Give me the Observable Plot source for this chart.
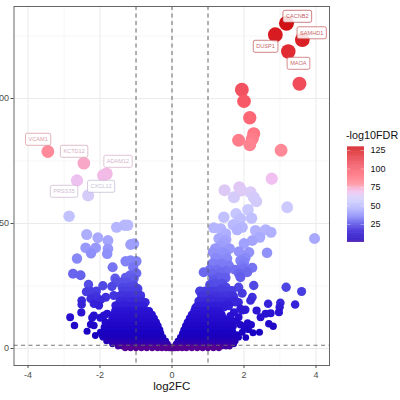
<!DOCTYPE html>
<html><head><meta charset="utf-8">
<script src="https://cdn.jsdelivr.net/npm/d3@7"></script>
<script src="https://cdn.jsdelivr.net/npm/@observablehq/plot@0.6"></script>
<style>
html,body{margin:0;padding:0;background:#fff;overflow:hidden}
#wrap{position:relative;width:400px;height:400px;font-family:"Liberation Sans",Arial,sans-serif}
#wrap svg{position:absolute;left:0;top:0;display:block}
#ltitle{position:absolute;left:346px;top:129px;font-size:10.8px;color:#111;white-space:nowrap}
</style></head><body><div id="wrap"></div>
<script>
// scattered points: [log2FC, -log10FDR]
const upperRight = [[3.18,130.1],[2.87,125.5],[3.62,123.5],[3.23,118.8],[3.54,105.9],[1.94,103.5],[2.0,98.9],[2.16,92.3],[2.27,85.9],[1.85,83.3],[2.16,81.5],[2.23,83.9],[3.03,79.3],[2.77,67.9],[1.46,63.3],[1.87,64.5],[2.18,62.5],[1.72,60.5],[1.92,63.2],[2.27,60.5],[2.34,58.9]];
const midRight = [[3.96,44],[3.2,56.5],[2.64,38.3],[1.44,52.5],[1.78,53.9],[1.9,51.9],[2.11,55.5],[2.21,52.1],[1.16,48.3],[1.35,47.9],[1.49,45.9],[1.81,47.5],[1.95,48.5],[2.32,47.2],[2.44,44.5],[2.6,47.5],[2.75,46.5],[2.23,43.2],[1.44,42.5],[1.35,41.2],[1.14,38.5],[1.86,38.8],[2.14,38.5],[1.49,37.9],[1.21,36.3],[1.53,35.9],[2.04,36.3],[1.9,35.2],[1.39,33.9],[1.58,33.2],[1.95,33.2],[2.23,32.3],[1.12,33.9],[0.88,30.5],[1.12,29.9],[1.49,28.3],[1.86,29.9],[1.9,28.5],[2.09,30.5],[1.3,28.5],[1.25,31.5],[1.2,26],[1.05,25.5],[1.4,26],[1.25,36],[1.3,33.5],[1.5,31],[1.35,30.5],[1.2,40],[1.5,43.5],[1.05,31.5],[2.0,32],[1.4,38.5],[1.3,44],[1.6,40],[2.0,42],[1.7,49.5],[2.0,34.5],[1.75,31.5],[1.15,27.5]];
const lowRight = [[3.17,24.5],[3.6,22.8],[3.42,17.6],[2.27,25.2],[3.01,18.3],[2.99,16.5],[2.97,14.5],[2.67,17.9],[2.74,14.1],[2.6,13.9],[2.46,12.5],[2.35,15.2],[2.81,8.9],[2.69,9.9],[2.43,6.5],[2.25,6.3],[2.04,15.5],[1.9,15.9],[2.23,20.5],[2.18,19.2],[0.77,22.9],[0.98,22.5],[1.16,22.5],[1.35,23.9],[1.67,23.2],[1.95,22.1],[1.3,20.5],[1.72,20.5],[1.07,19.9],[0.65,16.3],[0.88,17.2],[1.16,16.5],[1.44,16.5],[1.76,18.5],[1.53,17.9],[1.95,15.2],[2.1,10.2],[2.0,8.8],[1.85,12.5],[2.2,9.5],[1.7,9],[1.95,6.5],[1.62,13],[1.8,5.5],[2.05,4.4],[1.72,14.5],[1.6,11],[1.78,11],[1.9,9.5],[1.68,7],[1.85,4.5],[2.12,7.6],[1.55,18],[1.85,18.5],[1.6,21],[1.85,24.5],[1.5,24.5],[1.7,3.2]];
const upperLeft = [[-3.45,78.8],[-2.45,74.1],[-1.82,69.9],[-1.91,69.2],[-2.64,67.2],[-2.33,61.2],[-2.86,52.9],[-1.54,48.5],[-1.32,49.3],[-1.23,49.3],[-2.37,45.6],[-2.06,44.3],[-1.78,43.2],[-1.06,41.9],[-1.15,41.6],[-2.4,40.3],[-2.12,40.3],[-2.25,38.1],[-1.78,39.9],[-1.8,37.9],[-2.64,36],[-1.29,34.9],[-1.15,35.2],[-0.99,34.9],[-1.65,32.5],[-2.75,29.9],[-2.54,29.3],[-1.58,28],[-1.29,28.3],[-1.17,29.2],[-0.99,30.1],[-1.06,27.9],[-1.08,32.5]];
const lowLeft = [[-2.32,25.6],[-1.92,25.1],[-1.67,24.8],[-1.38,24.3],[-2.38,22.7],[-2.26,22.9],[-1.2,24.5],[-1.06,25.2],[-0.95,23.9],[-1.84,20.5],[-1.62,21.2],[-1.43,21.2],[-1.25,20.5],[-0.87,21.2],[-2.51,19.2],[-2.51,17.6],[-2.26,19.9],[-2.17,17.9],[-2.03,17.2],[-1.57,17.2],[-1.34,17.9],[-1.06,18.5],[-0.74,18.5],[-2.52,14.4],[-1.8,13.9],[-2.17,13.2],[-2.22,12.3],[-2.83,12.5],[-2.71,9.2],[-2.26,9.6],[-2.17,9.2],[-2.36,6.9],[-2.13,5.2],[-1.94,5.2],[-1.99,12.3],[-1.85,10.5],[-1.89,13.2],[-1.75,9.2],[-1.99,6.5],[-2.1,20.8],[-1.98,19.5],[-2.1,23],[-1.75,7.5],[-1.88,8.5],[-1.55,26.5],[-1.4,26.5],[-1.25,26.5]];

// the dense body of the volcano, row by row: one -log10FDR, then log2FC values
const denseRows = [
 [23,[-1.35,-1.22,-1.1,-0.98,0.78,0.92,1.06,1.2,1.34,1.5,1.62]],
 [21,[-1.4,-1.28,-1.15,-1.03,-0.92,0.82,0.96,1.1,1.24,1.4,1.55,1.7]],
 [19,[-1.45,-1.32,-1.2,-1.08,-0.95,-0.83,0.74,0.88,1.02,1.16,1.3,1.44,1.58,1.72]],
 [17,[-1.5,-1.38,-1.26,-1.14,-1.02,-0.9,-0.79,0.7,0.82,0.95,1.08,1.2,1.32,1.45,1.58]],
 [15,[-1.58,-1.46,-1.34,-1.22,-1.1,-0.98,-0.86,-0.74,-0.64,0.62,0.74,0.86,0.98,1.1,1.22,1.32]],
 [13.5,[-1.62,-1.5,-1.38,-1.26,-1.14,-1.02,-0.9,-0.78,-0.66,-0.56,0.55,0.67,0.79,0.91,1.03,1.15,1.27,1.38]],
 [12,[-1.66,-1.54,-1.42,-1.3,-1.18,-1.06,-0.94,-0.82,-0.7,-0.58,-0.5,0.49,0.6,0.72,0.84,0.96,1.08,1.2,1.32,1.43]],
 [10.5,[-1.7,-1.58,-1.46,-1.34,-1.22,-1.1,-0.98,-0.86,-0.74,-0.62,-0.52,-0.44,0.43,0.52,0.64,0.76,0.88,1.0,1.12,1.24,1.36,1.5]],
 [9,[-1.76,-1.64,-1.52,-1.4,-1.28,-1.16,-1.04,-0.92,-0.8,-0.68,-0.56,-0.46,-0.39,0.38,0.46,0.58,0.7,0.82,0.94,1.06,1.18,1.3,1.42,1.55]],
 [7.5,[-1.8,-1.68,-1.56,-1.44,-1.32,-1.2,-1.08,-0.96,-0.84,-0.72,-0.6,-0.48,-0.4,-0.34,0.33,0.4,0.5,0.62,0.74,0.86,0.98,1.1,1.22,1.34,1.46,1.58]],
 [6,[-1.84,-1.72,-1.6,-1.48,-1.36,-1.24,-1.12,-1.0,-0.88,-0.76,-0.64,-0.52,-0.4,-0.31,0.29,0.38,0.5,0.62,0.74,0.86,0.98,1.1,1.22,1.34,1.46,1.6]],
 [4.5,[-1.92,-1.8,-1.68,-1.56,-1.44,-1.32,-1.2,-1.08,-0.96,-0.84,-0.72,-0.6,-0.48,-0.36,-0.25,0.23,0.34,0.46,0.58,0.7,0.82,0.94,1.06,1.18,1.3,1.42,1.54,1.7]],
 [3,[-1.82,-1.7,-1.58,-1.46,-1.34,-1.22,-1.1,-0.98,-0.86,-0.74,-0.62,-0.5,-0.38,-0.26,-0.17,0.16,0.26,0.38,0.5,0.62,0.74,0.86,0.98,1.1,1.22,1.34,1.46,1.58,1.76]],
 [1.8,[-1.66,-1.54,-1.42,-1.3,-1.18,-1.06,-0.94,-0.82,-0.7,-0.58,-0.46,-0.34,-0.22,-0.12,0.11,0.2,0.32,0.44,0.56,0.68,0.8,0.92,1.04,1.16,1.28,1.4,1.52,1.64,1.72]],
 [0.8,[-1.5,-1.38,-1.26,-1.14,-1.02,-0.9,-0.78,-0.66,-0.54,-0.42,-0.3,-0.2,-0.1,-0.06,0.05,0.1,0.2,0.3,0.42,0.54,0.66,0.78,0.9,1.02,1.14,1.26,1.38,1.5,1.6]],
 [0.15,[-1.3,-1.15,-1,-0.85,-0.7,-0.55,-0.4,-0.28,-0.16,-0.08,-0.03,0,0.03,0.08,0.16,0.28,0.4,0.55,0.7,0.85,1,1.15,1.3]]
];

// labelled genes
const geneNames = ["VCAM1","KCTD12","ADAM12","PRSS35","CXCL12","CACNB2","SAMHD1","DUSP1","MAOA"];
const geneX = [-3.72,-2.72,-1.5,-3.0,-1.97,3.48,3.88,2.6,3.51];
const geneY = [83.6,78.8,74.8,62.8,64.8,132.8,126.2,120.8,114];
const geneV = [79,74,70,67,62,130,123,125,118];

const xMajor = [-4,-2,0,2,4], xMinor = [-3,-1,1,3];
const yMajor = [0,50,100], yMinor = [25,75,125];
const cutoffX = [-1,0,1], cutoffY = [1.3];
const legendTicks = [25,50,75,100,125];

const colorStops = [0,1.5,5,15,25,35,45,55,62,68,74,79,90,106,120,130];
const colorVals = ["#5a0090","#3000b0","#1800c0","#2c14d4","#5048e4","#8484f8","#acacff","#c8c8ff","#d8ccf8","#f0c0f0","#f8a8c8","#ff8a98","#ff6a78","#f04c5a","#e0282e","#d01014"];
const colorScale = {type:"linear",domain:colorStops,range:colorVals,interpolate:"rgb"};

const pts = [...upperRight,...midRight,...lowRight,...upperLeft,...lowLeft,
  ...denseRows.flatMap(([y,xs])=>xs.map(x=>[x,y]))].sort((a,b)=>a[1]-b[1]);
const genes = geneNames.map((n,i)=>({n,x:geneX[i],y:geneY[i],v:geneV[i]}));
const font = '"Liberation Sans",Arial,sans-serif';

const main = Plot.plot({
  width:400,height:400,marginLeft:13.5,marginRight:71,marginTop:6,marginBottom:35,
  style:{fontFamily:font,background:"transparent"},
  x:{domain:[-4.39,4.375]},
  y:{domain:[-6.8,136.8]},
  color:colorScale,
  r:{type:"linear",domain:[0,10,30,60,130],range:[3,3.8,5,6,7.5]},
  marks:[
    Plot.ruleX(xMinor,{stroke:"#f2f2f2",strokeWidth:0.7}),
    Plot.ruleY(yMinor,{stroke:"#f2f2f2",strokeWidth:0.7}),
    Plot.ruleX(xMajor,{stroke:"#ebebeb",strokeWidth:1}),
    Plot.ruleY(yMajor,{stroke:"#ebebeb",strokeWidth:1}),
    Plot.dot(pts,{x:d=>d[0],y:d=>d[1],r:d=>d[1],fill:d=>d[1],stroke:"none"}),
    Plot.ruleX(cutoffX,{stroke:"#555",strokeWidth:0.9,strokeDasharray:"4 3.5"}),
    Plot.ruleY(cutoffY,{stroke:"#666",strokeWidth:0.9,strokeDasharray:"4 3.5"}),
    Plot.text(genes,{x:"x",y:"y",text:"n",fill:"v",fontSize:5.6,fillOpacity:0.85,className:"gene"}),
    Plot.frame({stroke:"#666",strokeWidth:1}),
    Plot.axisX(xMajor,{tickSize:3,tickPadding:3,fontSize:9,color:"#4d4d4d",tickFormat:d=>String(d),label:null}),
    Plot.axisY(yMajor,{tickSize:3,tickPadding:2,fontSize:9,color:"#4d4d4d",tickFormat:d=>String(d),label:null}),
    Plot.text(["log2FC"],{frameAnchor:"bottom",dy:24,fontSize:11.5,fill:"#111"})
  ]
});
const wrap = document.getElementById("wrap");
wrap.appendChild(main);

// label boxes behind the gene names, ink muted towards grey as in the reference
d3.select(main).selectAll("g.gene text").each(function(){
  const b=this.getBBox(), t=d3.select(this);
  const ink=d3.interpolateRgb(t.attr("fill"),"#808080")(0.35);
  t.attr("fill",ink);
  d3.select(this.parentNode).insert("rect",()=>this)
    .attr("x",b.x-3).attr("y",b.y+b.height/2-6).attr("width",b.width+6).attr("height",12)
    .attr("rx",1.8).attr("fill","#fff").attr("stroke",ink).attr("stroke-opacity",0.8)
    .attr("stroke-width",0.8).attr("transform",t.attr("transform"));
});

// colour bar
const legendSteps = d3.range(0.7,129.5,0.75);
const legend = Plot.plot({
  width:60,height:110,marginLeft:14,marginRight:29,marginTop:6.7,marginBottom:8,
  style:{fontFamily:font,background:"transparent"},
  x:{domain:[0,1],axis:null},
  y:{domain:[0.7,129.5],axis:null},
  color:colorScale,
  marks:[
    Plot.rect(legendSteps,{x1:0,x2:1,y1:d=>d,y2:d=>d+0.9,fill:d=>d,stroke:"none"}),
    Plot.ruleY(legendTicks,{x1:0,x2:0.2,stroke:"#fff",strokeOpacity:0.6,strokeWidth:0.6}),
    Plot.ruleY(legendTicks,{x1:0.8,x2:1,stroke:"#fff",strokeOpacity:0.6,strokeWidth:0.6}),
    Plot.text(legendTicks,{x:1,y:d=>d,text:d=>String(d),textAnchor:"start",dx:6,fontSize:9,fill:"#111"})
  ]
});
legend.style.left="333px"; legend.style.top="140px"; legend.style.overflow="visible";
wrap.appendChild(legend);
const lt=document.createElement("div"); lt.id="ltitle"; lt.textContent="-log10FDR"; wrap.appendChild(lt);
</script></body></html>
